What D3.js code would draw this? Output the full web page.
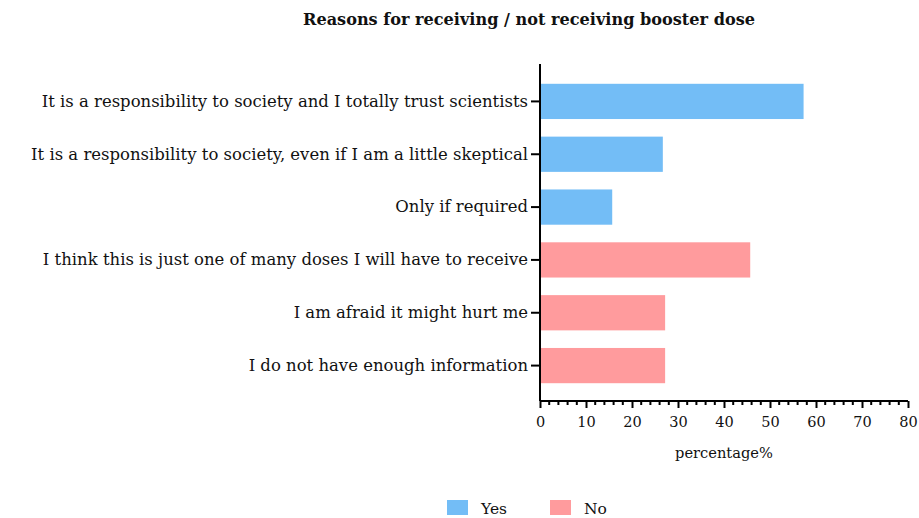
<!DOCTYPE html>
<html><head><meta charset="utf-8">
<script src="https://cdn.jsdelivr.net/npm/d3@7"></script>
<style>body{margin:0;background:#fff}svg{display:block}text{font-family:"DejaVu Serif",serif;fill:#111}</style>
</head><body><svg id="c" width="919" height="518"></svg>
<script>
const categories = [
  "It is a responsibility to society and I totally trust scientists",
  "It is a responsibility to society, even if I am a little skeptical",
  "Only if required",
  "I think this is just one of many doses I will have to receive",
  "I am afraid it might hurt me",
  "I do not have enough information"
];
const values = [57.3, 26.7, 15.7, 45.7, 27.2, 27.2];
const groups = ["Yes", "Yes", "Yes", "No", "No", "No"];
const legendLabels = ["Yes", "No"];
const xTicks = [0, 10, 20, 30, 40, 50, 60, 70, 80];

const svg = d3.select("#c");
const color = d3.scaleOrdinal().domain(legendLabels).range(["#73bdf6", "#ff9b9d"]);
const x = d3.scaleLinear().domain([0, 80]).range([540, 908]);
const y = d3.scaleBand().domain(categories).range([75, 392]).paddingInner(0.333).paddingOuter(0.1665);

function fit(sel, base, target) {
  sel.attr("font-size", base);
  const w = sel.node().getComputedTextLength();
  sel.attr("font-size", base * target / w);
}

const title = svg.append("text").attr("x", 529).attr("y", 25).attr("text-anchor", "middle")
  .attr("font-weight", "bold").text("Reasons for receiving / not receiving booster dose");
fit(title, 16, 452);

svg.append("g").selectAll("rect").data(categories).join("rect")
  .attr("x", x(0)).attr("y", d => y(d))
  .attr("width", (d, i) => x(values[i]) - x(0))
  .attr("height", y.bandwidth())
  .attr("fill", (d, i) => color(groups[i]));

// y axis
const ya = svg.append("g").attr("transform", `translate(${x(0)},0)`)
  .call(d3.axisLeft(y).tickSize(9).tickPadding(3));
ya.select(".domain").remove();
ya.selectAll(".tick line").attr("stroke", "#000").attr("stroke-width", 2);
ya.selectAll(".tick text").attr("font-size", 15.5).attr("font-family", "DejaVu Serif").attr("fill", "#111");
let maxW = 0;
ya.selectAll(".tick text").each(function(){ maxW = Math.max(maxW, this.getComputedTextLength()); });
ya.selectAll(".tick text").attr("font-size", 15.5 * 497 / maxW);
svg.append("line").attr("x1", x(0)).attr("x2", x(0)).attr("y1", 64).attr("y2", 401)
  .attr("stroke", "#000").attr("stroke-width", 2);

// x axis
const xa = svg.append("g").attr("transform", "translate(0,401)");
xa.call(d3.axisBottom(x).tickValues(xTicks).tickSize(7).tickPadding(9).tickFormat(d3.format("d")));
xa.select(".domain").attr("d", `M${x(0)},0H${x(80)}`).attr("stroke", "#000").attr("stroke-width", 2);
xa.selectAll(".tick line").attr("stroke", "#000").attr("stroke-width", 2);
xa.selectAll(".tick text").attr("font-size", 14.5).attr("font-family", "DejaVu Serif").attr("fill", "#111");
const minor = d3.range(0, 81, 2).filter(v => v % 10 !== 0);
xa.selectAll(".minor").data(minor).join("line").attr("class", "minor")
  .attr("x1", d => x(d)).attr("x2", d => x(d)).attr("y1", 0).attr("y2", 4)
  .attr("stroke", "#000").attr("stroke-width", 2);

const xl = svg.append("text").attr("x", 724).attr("y", 458).attr("text-anchor", "middle").text("percentage%");
fit(xl, 15, 98);

// legend
const lg = svg.append("g");
const lx = [447, 550];
legendLabels.forEach((l, i) => {
  lg.append("rect").attr("x", lx[i]).attr("y", 500).attr("width", 21).attr("height", 15).attr("fill", color(l));
  lg.append("text").attr("x", lx[i] + 34).attr("y", 514).attr("font-size", 15.5).text(l);
});
</script></body></html>
